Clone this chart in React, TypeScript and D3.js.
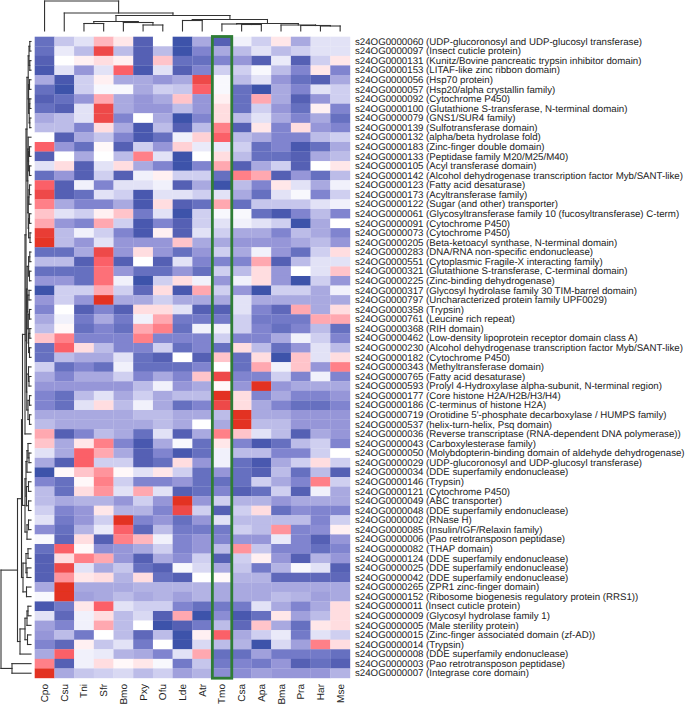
import React from "react";
import * as d3 from "d3";

const species = ["Cpo","Csu","Tni","Sfr","Bmo","Pxy","Ofu","Lde","Atr","Tmo","Csa","Apa","Bma","Pra","Har","Mse"];
const highlighted = "Tmo";

const rowLabels = [
"s24OG0000060 (UDP-glucoronosyl and UDP-glucosyl transferase)",
"s24OG0000097 (Insect cuticle protein)",
"s24OG0000131 (Kunitz/Bovine pancreatic trypsin inhibitor domain)",
"s24OG0000153 (LITAF-like zinc ribbon domain)",
"s24OG0000056 (Hsp70 protein)",
"s24OG0000057 (Hsp20/alpha crystallin family)",
"s24OG0000092 (Cytochrome P450)",
"s24OG0000100 (Glutathione S-transferase, N-terminal domain)",
"s24OG0000079 (GNS1/SUR4 family)",
"s24OG0000139 (Sulfotransferase domain)",
"s24OG0000132 (alpha/beta hydrolase fold)",
"s24OG0000183 (Zinc-finger double domain)",
"s24OG0000133 (Peptidase family M20/M25/M40)",
"s24OG0000105 (Acyl transferase domain)",
"s24OG0000142 (Alcohol dehydrogenase transcription factor Myb/SANT-like)",
"s24OG0000123 (Fatty acid desaturase)",
"s24OG0000173 (Acyltransferase family)",
"s24OG0000122 (Sugar (and other) transporter)",
"s24OG0000061 (Glycosyltransferase family 10 (fucosyltransferase) C-term)",
"s24OG0000091 (Cytochrome P450)",
"s24OG0000073 (Cytochrome P450)",
"s24OG0000205 (Beta-ketoacyl synthase, N-terminal domain)",
"s24OG0000283 (DNA/RNA non-specific endonuclease)",
"s24OG0000551 (Cytoplasmic Fragile-X interacting family)",
"s24OG0000321 (Glutathione S-transferase, C-terminal domain)",
"s24OG0000225 (Zinc-binding dehydrogenase)",
"s24OG0000317 (Glycosyl hydrolase family 30 TIM-barrel domain)",
"s24OG0000797 (Uncharacterized protein family UPF0029)",
"s24OG0000358 (Trypsin)",
"s24OG0000761 (Leucine rich repeat)",
"s24OG0000368 (RIH domain)",
"s24OG0000462 (Low-density lipoprotein receptor domain class A)",
"s24OG0000230 (Alcohol dehydrogenase transcription factor Myb/SANT-like)",
"s24OG0000182 (Cytochrome P450)",
"s24OG0000343 (Methyltransferase domain)",
"s24OG0000765 (Fatty acid desaturase)",
"s24OG0000593 (Prolyl 4-Hydroxylase alpha-subunit, N-terminal region)",
"s24OG0000177 (Core histone H2A/H2B/H3/H4)",
"s24OG0000186 (C-terminus of histone H2A)",
"s24OG0000719 (Orotidine 5'-phosphate decarboxylase / HUMPS family)",
"s24OG0000537 (helix-turn-helix, Psq domain)",
"s24OG0000036 (Reverse transcriptase (RNA-dependent DNA polymerase))",
"s24OG0000043 (Carboxylesterase family)",
"s24OG0000050 (Molybdopterin-binding domain of aldehyde dehydrogenase)",
"s24OG0000029 (UDP-glucoronosyl and UDP-glucosyl transferase)",
"s24OG0000034 (DDE superfamily endonuclease)",
"s24OG0000146 (Trypsin)",
"s24OG0000121 (Cytochrome P450)",
"s24OG0000049 (ABC transporter)",
"s24OG0000048 (DDE superfamily endonuclease)",
"s24OG0000002 (RNase H)",
"s24OG0000085 (Insulin/IGF/Relaxin family)",
"s24OG0000006 (Pao retrotransposon peptidase)",
"s24OG0000082 (THAP domain)",
"s24OG0000124 (DDE superfamily endonuclease)",
"s24OG0000025 (DDE superfamily endonuclease)",
"s24OG0000042 (DDE superfamily endonuclease)",
"s24OG0000265 (ZPR1 zinc-finger domain)",
"s24OG0000152 (Ribosome biogenesis regulatory protein (RRS1))",
"s24OG0000011 (Insect cuticle protein)",
"s24OG0000009 (Glycosyl hydrolase family 1)",
"s24OG0000005 (Male sterility protein)",
"s24OG0000015 (Zinc-finger associated domain (zf-AD))",
"s24OG0000014 (Trypsin)",
"s24OG0000008 (DDE superfamily endonuclease)",
"s24OG0000003 (Pao retrotransposon peptidase)",
"s24OG0000007 (Integrase core domain)",
];

const values = [
[-8,-3.5,-2,3.5,1.5,-9,0,-10,-5,-9,-1,-3,1.5,-5,-2,-2],
[-8,-1.5,-4,7,-4,-9,-4,-10,-7,-5,-4,-2,-4,-3,-2,-2],
[-9,0,1,2,1,-9,3,-8,-8,-7,-6,-9,-1.5,-9,-3,1.5],
[-9.5,-2,-6,-2,6,-9.5,-2,-9,-7,-3,-3,-0.5,-4,-7,1.5,-7],
[-5,-9.5,-3,1,-5,-5,-6,-5,7,-0.5,-4,-2,-6,-8,-9,-5],
[-8,-10,-3,-0.5,-0.5,-5,-3,-3.5,6,-0.5,-8,-10,-5,-7,-2,-3],
[-9,-8,-6,4,-5,-6,-5,3,-6,1,-8,4,-5,-9,-6,-3],
[-8,-9,-2,7,-5,-6,-6,-4,-6,2,-8,-3,-6,-8,1,-7],
[-5,-4,-2,7,-7,0,-5,-10,-7,2,-4,-2,-5,-7,-5,-8],
[-4,-4,-7,2,-5,-9.5,-4,-9,-4,5,-9,1.5,-7,2,-6,-7],
[0,-9,-5,-3.5,-7,-9.5,-8,-1,2.5,6,-4,-5,-7,-7,-4,-3],
[6,-6,-8,0.5,-9,-3,-6,2.5,-1.5,-1.5,-3,-8,-7,-9.5,-8,-5],
[-9,0,-5,0,-4,5,-2,-10,0,2,-4,-8,-8,-9,-5,-4],
[-2,2,-9,-2,2,-5,-7,-10,-7,4,-9,-5,-3,-9,0,1.5],
[-8,-6,-9,-3,-9,-1,1,-3,-3,-8,5,4,-9,-6,-8,-4],
[6,-9,-1,-7,-2,-2,-1,-9,-5,-10,-4,-7,1.5,-2,-5,-1],
[7,-9,-8,-2,-3,-9.5,-2,-2,-3,-2,-5,-8,-2,-0.5,-7,-3],
[5,-5,-7,-7,-5,-9.5,2,-9,-8,4,-8,-3.5,-3.5,-3.5,-2,-1],
[3,-2,-3,1,3,-7.5,-2,-10,-3,-0.5,-0.5,-8,-9.5,-7,-4,-7],
[4,-6,-7,4,-3,-9.5,-7,-9,-3,-2,-1,-2,-3,-10,-5,0],
[7.5,-4,-1,-3,-7,-9.5,1,-9,-2,-3,-5,-5,-7,-4,-5,-7],
[7.8,-4,-6,-2,-6,-6,-6,3,-5,-5,-6,-6,-6,-5,-4,-6],
[-8,-8,-5,7,-6,2,-6,-8,-6,-3,-5,-1,-6,-8,-3,2],
[-4,-4,-9,6,-9,0,-9,-2,-7,-7,-7,4,-9,-4,-2,-2],
[-8,-8,-8,5.5,-6,-8,-8,-6,-8,-3,-4,2,-6,0,-2,3],
[-6,-6,-8,5.5,-1,-10,-3,2,-1,-6,-1,2,-6,-10,-3,-6],
[-10,-3,-3,4,-3,-8.5,2,-9.5,4,-3,-6,-10,-3,-3,-5,-1],
[-6,-3,-6,8,-5,-5,-3,-5,-5,-5,-2,-5,-5,-5,-5,-5],
[-7,0,-9,-7,-9,2,2,-2,-9,-9,-2,-7,-8.5,4,-5,2],
[-5,-1,-7.5,-5,-7.5,-1,4,-7.5,-7.5,-7.5,-3,-7.5,-7.5,-7.5,4,4],
[-4,0.5,-8,-7,-8,4,5,-8,-1,-1,-3,-7,-8,-7,-4,-8],
[3,5,-7,-7,-7,5,-7,-7,-7,-3,-7,-7,-5,-1,-3,-7],
[-8,6,2,-4,-7,-7,-3,-8,-7,-8,2,-4,-8,-6,-2,-4],
[-8,-4,-5,-5,-2,-8,-9,0,-9,3,-8,2,-10,3,-2,2],
[-3,-8,-7,-8,-1,-8,-8,-8,-7,0,-8,4,-1,3,-6,5],
[-5,-7,-5,-5,-3,-7,-5,-7,3,7,-7,-7,-3,-7,-1,-7],
[-6,-6,-6,-6,-6,-4,-1,-6,-5,0.5,-6,8,-6,-5,-5,-5],
[-7,-8,-4,-2,-5,-3,-5,-4,-4,8,2,-7,-5,-7,-7,-6],
[-7,-8,-2,2,-4,-1,-5,-8,-7,7,2,-5,-7,-8,-8,-7],
[-5,-5,-5,-5,-5,-4,-4,-5,-5,-4,8,-5,-5,-6,-6,-6],
[-4,-5,-5,-5,-5,-5,-4,-5,0,-5,8,-4,-4,-6,-6,-6],
[4,-9,-7,-4,-5,-8,-2,-9,-5,5,3,-2,-4,-9,-5,-6],
[3,-5,1.5,5,-7,-9.5,-5,-0.5,-8,1.5,-7,-9.5,-8,-4,-3,-7],
[-2,-5,6,4,-5,-9,-7,-9.5,-8,-1,-4,-4,-7,-7,-3,0],
[-5,-9,6,-3,-3,-9,-8,2,-6,-1,-8,-9.5,-5,-3,2,-3],
[-10,0.5,3,4.5,0.5,-2,1.5,-3,-8,-6,-8,-9,-4,-8,-4,-9],
[-7,-8,0.5,5,-3,-7,-7,-6,-8,-8,-8,-3,-5,-7,5,-3],
[-4,-8,2,4.5,-2,4,-2,-9,-8,-7,-9,-8,-3,-9,-1,-5],
[-4,-5,-4.5,-4.5,-6,-3,-6,8,-6,-3,-4.5,-4.5,-6,-5,-5,-5],
[-3,-7,-6,1.5,-4.5,-4.5,-7,7,-3,-9,-3,2,-8,-6.5,-7,-7],
[-2,-7.5,-6,-3,8,-7,-6,-8,-6,-2,-4,-4,-4,-4,-7,-3],
[-6.5,-8,-4.5,-1.5,6,-8.5,-4,-7.5,-7.5,-7.5,-3,-4,4.5,-7,-6.5,1],
[-0.5,-8.5,2,-9,5,3.5,-1,-7,-6,-7,-6,-6,-1.5,-7,-9,-6],
[-8,6,0.5,-6.5,-6,-5,-3,-7,-6,-4,4.5,-3.5,-7,-7,-8,-7],
[-9,2,5,4,-6,-9,-5,-6.5,-3,-9,-3,1,-6,-9,-4.5,-6],
[-9,7,-2,-5,-3.5,-8,-9,-0.5,-2.5,-5,-3.5,-7.5,-4.5,-0.5,-2,-9],
[-9,4.5,1.5,2,-4.5,2,-8,-9,0,0.5,-4.5,-4.5,-8.5,-8.5,-8.5,-8.5],
[-5,8,-5,-5,-5,-4.5,-4.5,-4.5,-4.5,-5,-5,-5,-5,-5,-5,-5],
[-0.5,8,-5.5,-5,-4,-5,-4.5,-5.5,-4.5,-5,-5,-5,-4,-4.5,-5.5,-5],
[-9.5,-7.5,1.5,6,-2,-3,-3,-7,-8,-7.5,-7.5,-2,-5,-7,-5,2],
[-2,-8.5,-1,2,-4,-2.5,-9,4,-10,-6.5,-9.5,-8,1.5,-5.5,-4,2],
[-5.5,-7,-1,4,-4,0,-10,-9,-7.5,-4,-8.5,3,-5,-8,1.5,2],
[-6,-4,-7.5,0,-4,-8.5,-4,-10,1,6,-5,-3,-1.5,-7.5,-2,-3],
[-7,-8.5,1,-3.5,-2,-7.5,0,-10,-2.5,-4,-4.5,-10,-2.5,-5.5,5,2],
[-5,6,-1,-1.5,-4.5,-5,-7,-2,4,-8,-8,-5.5,-7.5,-7.5,-7.5,-8],
[5,-9,-1,2,0.5,1.5,-0.5,-7.5,-3.5,-7.5,-7,-7.5,-6,-9,-8,-9],
[8,-5,-3.5,-3,-2.5,-4,-3,-5.5,-4.5,-6.5,-6.5,-5.5,-6,-6,-6,-4.5],
];

const colourLevels = [-10,-9,-8,-7,-6,-5,-4,-3,-2,-1,0,1,2,3,4,5,6,7,8];
const colourStops = ["#3c52aa","#5560b4","#6670c0","#8084cf","#9696d8","#a9a9e0","#bcbce8","#cfcff0","#e2e2f6","#f1f1fb","#ffffff","#fff0f2","#ffdde0","#ffc4ca","#ffa8b0","#ff8088","#fb6068","#ee4a48","#e33020"];

// Dendrogram nodes: [merge height, left child, right child]; a number is a leaf index (1-based).
type Node = number | [number, Node, Node];

const columnTree: Node = [30,1,[18,2,[15.5,
  [9.5,[7.5,3,4],[8.5,5,[6,6,7]]],
  [11.5,[10.5,8,9],[7.5,[7,10,[6.5,11,12]],[6,13,[5.5,14,[5,15,16]]]]]
]]];

const T1a: Node = [2.8,[2,[1.2,1,2],[1.2,3,4]],[2.4,[1.5,5,6],[1.8,[1.2,7,8],[1.2,9,10]]]];
const T1b: Node = [3.2,[2.8,11,[2.4,[1.5,12,13],[1.5,14,15]]],[2.8,[2,[1.5,16,17],18],[2.4,[1.5,19,20],[1,21,22]]]];
const T2: Node = [3.8,[2.4,[1.2,23,24],[1.5,25,26]],[3.2,[2,27,28],[2.8,[1.5,29,30],[2.4,[1.2,31,32],[1.5,33,34]]]]];
const T3: Node = [4.2,[2.5,35,[2,36,37]],[3,[1.5,38,39],[1.5,40,41]]];
const topBlock: Node = [6,[5,[4,T1a,T1b],[4.6,T2,T3]],42];
const midBlock: Node = [6,[5,[4,[3,43,[2,44,45]],46],[4.5,[2.5,47,48],[2.5,49,50]]],[4,[2.5,51,52],53]];
const lowBlock: Node = [8,[5,[3,54,55],[4,56,57]],[4.5,58,59]];
const tailBlock: Node = [11,[6,[4,[3,60,61],62],[3.5,63,64]],65];
const rowTree: Node = [30,[13.5,[9.5,[8.5,topBlock,midBlock],lowBlock],tailBlock],[19,66,67]];

function segments(node: Node, pos: (i: number) => number) {
  const out: { a: number; b: number; h0: number; h1: number }[] = [];
  const walk = (n: Node): { p: number; h: number } => {
    if (typeof n === "number") return { p: pos(n - 1), h: 0 };
    const l = walk(n[1]);
    const r = walk(n[2]);
    out.push({ a: l.p, b: r.p, h0: n[0], h1: n[0] });
    out.push({ a: l.p, b: l.p, h0: l.h, h1: n[0] });
    out.push({ a: r.p, b: r.p, h0: r.h, h1: n[0] });
    return { p: (l.p + r.p) / 2, h: n[0] };
  };
  walk(node);
  return out;
}

export default function App() {
  const gridLeft = 34.7, gridRight = 350, gridTop = 36.7, gridBottom = 678;
  const x = d3.scaleBand<string>().domain(species).range([gridLeft, gridRight]);
  const y = d3.scaleBand<number>().domain(d3.range(rowLabels.length)).range([gridTop, gridBottom]);
  const colour = d3.scaleLinear<string>().domain(colourLevels).range(colourStops).clamp(true);
  const colCentre = (i: number) => x(species[i])! + x.bandwidth() / 2;
  const rowCentre = (i: number) => y(i)! + y.bandwidth() / 2;
  const topH = d3.scaleLinear().domain([0, 30]).range([31, 1]);
  const leftH = d3.scaleLinear().domain([0, 30]).range([31, 1]);
  const hx = x(highlighted)!;
  const font = "'Liberation Sans', Arial, sans-serif";
  return (
    <svg width={685} height={704} viewBox="0 0 685 704" style={{ position: "absolute", left: 0, top: 0, background: "#fff" }}>
      <defs>
        <filter id="soft" x="-2%" y="-2%" width="104%" height="104%">
          <feGaussianBlur stdDeviation="0.35" />
        </filter>
      </defs>
      <g filter="url(#soft)">
        {values.map((row, r) =>
          row.map((v, c) => (
            <rect key={`${r}-${c}`} x={x(species[c])!} y={y(r)!} width={x.bandwidth() + 0.2} height={y.bandwidth() + 0.2} fill={colour(v)} />
          ))
        )}
      </g>
      <rect x={hx + 0.3} y={gridTop - 0.2} width={x.bandwidth() - 0.3} height={gridBottom - gridTop + 0.4} fill="none" stroke="#2f7d36" strokeWidth={2.8} />
      <g stroke="#333" strokeWidth={1.1} fill="none" strokeLinecap="square">
        {segments(columnTree, colCentre).map((s, i) => (
          <line key={i} x1={s.a} x2={s.b} y1={topH(s.h0)} y2={topH(s.h1)} />
        ))}
        {segments(rowTree, rowCentre).map((s, i) => (
          <line key={i} y1={s.a} y2={s.b} x1={leftH(s.h0)} x2={leftH(s.h1)} />
        ))}
      </g>
      <g fontFamily={font} fontSize={9.7} fill="#222" textRendering="geometricPrecision">
        {rowLabels.map((t, r) => (
          <text key={r} x={355} y={rowCentre(r) + 3.2}>{t}</text>
        ))}
      </g>
      <g fontFamily={font} fontSize={10} fill="#222" textRendering="geometricPrecision">
        {species.map((s, c) => (
          <text key={s} textAnchor="end" transform={`translate(${colCentre(c) + 3.5},684) rotate(-90)`}>{s}</text>
        ))}
      </g>
    </svg>
  );
}
